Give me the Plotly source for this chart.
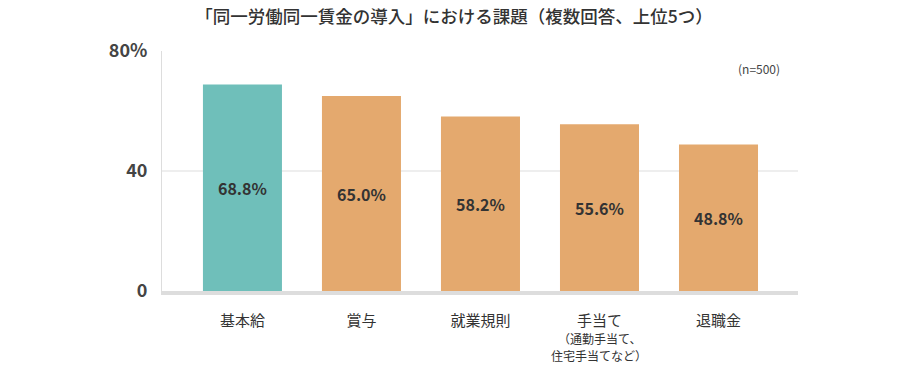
import plotly.graph_objects as go

categories = ["基本給", "賞与", "就業規則", "手当て", "退職金"]
sublabels = [[], [], [], ["（通勤手当て、", "住宅手当てなど）"], []]
values = [68.8, 65.0, 58.2, 55.6, 48.8]
bar_colors = ["#6fbfba", "#e4a96e", "#e4a96e", "#e4a96e", "#e4a96e"]
ytick_vals = [0, 40, 80]
ytick_text = ["0", "40", "80%"]
title_text = "「同一労働同一賃金の導入」における課題（複数回答、上位5つ）"
note_text = "(n=500)"

FONT = "Noto Sans CJK JP"
x_idx = list(range(len(categories)))

fig = go.Figure()
fig.add_trace(go.Bar(
    x=x_idx, y=values,
    marker=dict(color=bar_colors, line=dict(width=0)),
    text=[f"{v:.1f}%" for v in values],
    textposition="inside", insidetextanchor="middle",
    textfont=dict(family=FONT, size=16, color="#333333", weight="bold"),
    width=0.664,
    hoverinfo="skip",
))

fig.add_shape(type="line", xref="paper", yref="y", x0=0, x1=1, y0=40, y1=40,
              line=dict(color="#dddddd", width=1), layer="below")

for i, lines in enumerate(sublabels):
    for j, s in enumerate(lines):
        fig.add_annotation(x=i, xref="x", y=0, yref="paper", yanchor="middle",
                           yshift=-(47 + 17 * j),
                           text=s, showarrow=False,
                           font=dict(family=FONT, size=12, color="#333333"))

fig.add_annotation(x=1, xref="paper", xanchor="right", y=1.0, yref="paper", yanchor="middle",
                   xshift=-16, yshift=-17, text=note_text, showarrow=False,
                   font=dict(family=FONT, size=12, color="#444444"))

fig.update_layout(
    width=910, height=365,
    margin=dict(l=162, r=112, t=51, b=74),
    paper_bgcolor="white", plot_bgcolor="white",
    showlegend=False,
    title=dict(text=title_text, x=0.499, xanchor="center", y=1 - 17 / 365, yanchor="middle",
               font=dict(family=FONT, size=17.5, color="#333333", weight=500)),
    xaxis=dict(
        range=[-0.676, 4.668],
        tickvals=x_idx, ticktext=categories,
        tickfont=dict(family=FONT, size=15, color="#333333"),
        ticks="outside", ticklen=13, tickcolor="rgba(0,0,0,0)",
        showline=True, linecolor="#dddddd", linewidth=4,
        showgrid=False, zeroline=False, fixedrange=True,
    ),
    yaxis=dict(
        range=[0, 80],
        tickvals=ytick_vals, ticktext=ytick_text,
        tickfont=dict(family=FONT, size=18, color="#444444", weight="bold"),
        ticks="outside", ticklen=10, tickcolor="rgba(0,0,0,0)",
        showline=True, linecolor="#dddddd", linewidth=1,
        showgrid=False, zeroline=False, fixedrange=True,
    ),
)

fig.write_html("out.html", config={"displayModeBar": False},
               post_script="document.body.style.margin='0';")
